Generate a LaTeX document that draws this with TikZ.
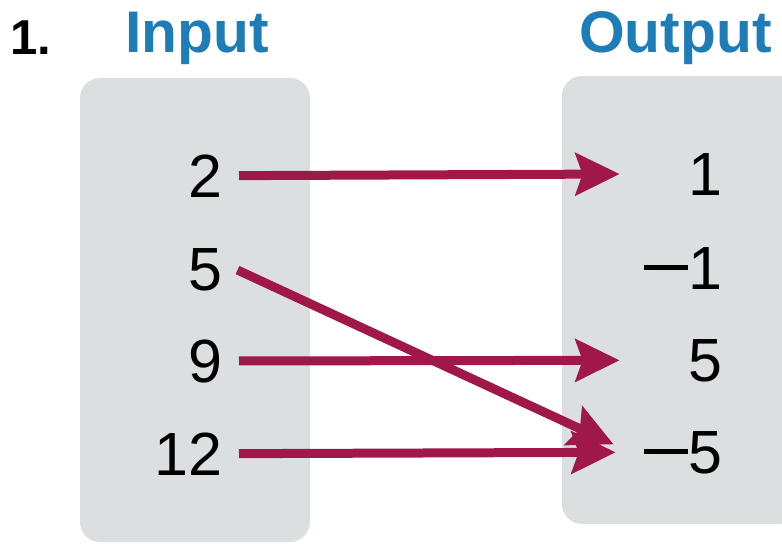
\documentclass[tikz,border=0pt]{standalone}
\usepackage{fontspec}
\setmainfont{Liberation Sans}
\usetikzlibrary{arrows.meta}
\definecolor{boxgrey}{HTML}{DCDFDF}
\definecolor{titleblue}{HTML}{1E7CB6}
\definecolor{arrowred}{HTML}{A0184A}
\newcommand{\mns}{\raisebox{19.5pt}{\rule{44pt}{4.5pt}}\hspace{0.5pt}}
\tikzset{
  panel/.style={fill=boxgrey, draw=none, rounded corners=20pt},
  title/.style={inner sep=0pt, anchor=base west, font=\fontsize{58.7}{60}\selectfont\bfseries},
  innum/.style={inner sep=0pt, text width=80pt, align=right, anchor=base east, font=\fontsize{61}{62}\selectfont},
  outnum/.style={inner sep=0pt, text width=103pt, align=right, anchor=base east, font=\fontsize{61}{62}\selectfont},
  maparrow/.style={draw=arrowred, line width=9pt, shorten <=16pt,
    -{Stealth[length=44pt, width=42pt, inset=7pt]}},
}
\begin{document}
\begin{tikzpicture}[x=1pt,y=-1pt]
\useasboundingbox (0,0) rectangle (782,546);
\fill[panel] (80,78) rectangle (310,542);
\fill[panel] (562,76) rectangle (800,524);
\node[title, font=\fontsize{49}{50}\selectfont\bfseries] (num) at (10,54) {1.};
\node[title, text=titleblue] (intitle) at (125,52) {Input};
\node[title, text=titleblue] (outtitle) at (579,52) {Output};
\node[innum] (i2) at (223,197) {2};
\node[innum] (i5) at (223,290) {5};
\node[innum] (i9) at (223,382) {9};
\node[innum] (i12) at (223,475) {12};
\node[outnum] (o1) at (723,195) {1};
\node[outnum] (om1) at (723,289) {\mns1};
\node[outnum] (o5) at (723,381) {5};
\node[outnum] (om5) at (723,473) {\mns5};
\draw[maparrow] (i2.east) -- (o1.west);
\draw[maparrow] (i9.east) -- (o5.west);
\draw[maparrow] (i12.east) -- ([xshift=-4pt]om5.west);
\draw[maparrow] ([yshift=6pt]i5.east) -- ([xshift=-6pt,yshift=8pt]om5.west);
\end{tikzpicture}
\end{document}
